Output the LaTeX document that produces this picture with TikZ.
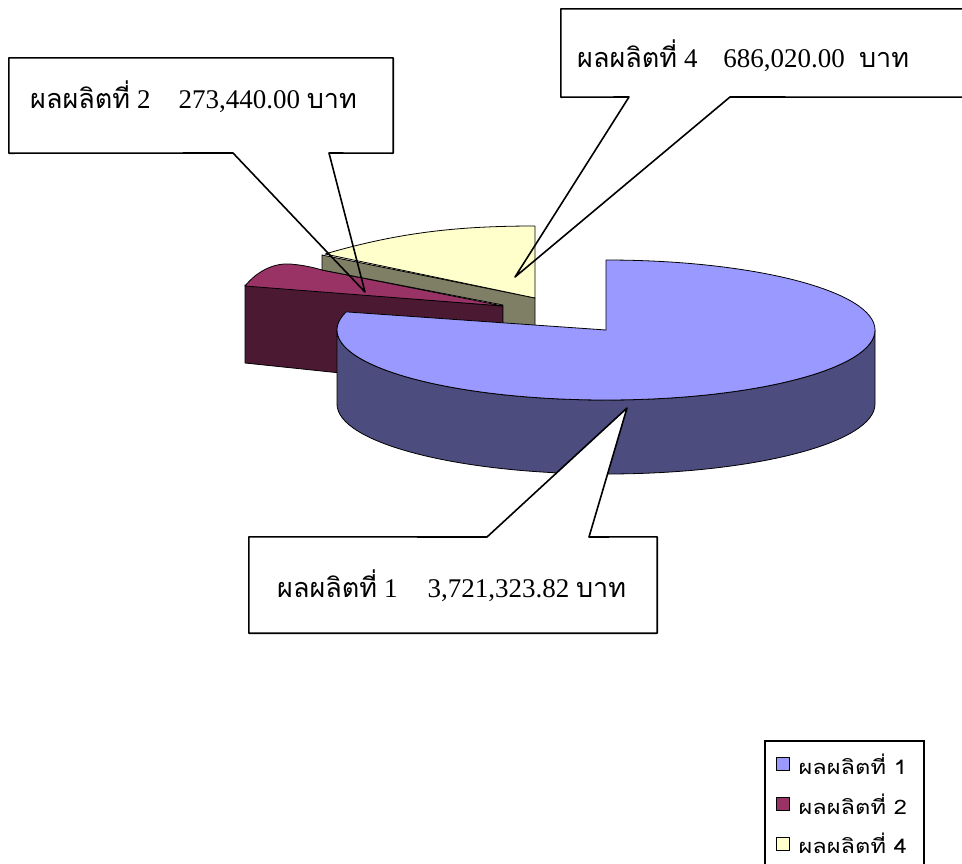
\documentclass[tikz,border=0pt]{standalone}
\usepackage{fontspec}
\setmainfont{Liberation Serif}
\newfontfamily\thaifont[Script=Thai]{Loma}
\newfontfamily\keyfont[Script=Thai, FakeStretch=1.18]{Loma}
\usetikzlibrary{positioning}
\definecolor{topone}{HTML}{9999FF}
\definecolor{sideone}{HTML}{4C4C7F}
\definecolor{toptwo}{HTML}{993366}
\definecolor{sidetwo}{HTML}{4C1933}
\definecolor{topfour}{HTML}{FFFFCC}
\definecolor{sidefour}{HTML}{7F7F66}
\newcommand{\thw}[1]{{\thaifont #1}}
\begin{document}
\begin{tikzpicture}[x=1pt,y=1pt,yscale=-1,xscale=1,
  slice/.style={draw=black, line width=0.8pt, line join=round},
  calloutbox/.style={fill=white, inner sep=0pt},
  calloutline/.style={draw=black, line width=1.6pt, line join=round},
  valtext/.style={inner sep=0pt, anchor=base west, font=\fontsize{27}{30}\selectfont},
  keybox/.style={draw=black, line width=0.8pt, minimum size=13pt, inner sep=0pt},
  keytext/.style={inner sep=0pt, font=\keyfont\fontsize{20}{24}\selectfont}]
		\useasboundingbox (0,0) rectangle (962,863);
		\clip (0,0) rectangle (962,863);
		% back slices
		\draw [slice, fill=sidetwo] (245,285) -- (503,306) -- (503,390) -- (245,363) -- cycle;
		\draw [slice, fill=toptwo] (245,286) .. controls (258,270) and (275,263) .. (290,264) .. controls (302,265) and (312,267) .. (322,270) -- (503,306) -- cycle;
		\draw [slice, fill=sidefour] (322,255) -- (535,298) -- (535,335) -- (503,335) -- (503,305) -- (322,270) -- cycle;
		\draw [slice, fill=topfour] (325,254) .. controls (400,232) and (460,226) .. (535,226) -- (535,298) -- cycle;
		% exploded slice
		\draw [slice, fill=sideone] (337,330) arc [start angle=180, end angle=0, x radius=269, y radius=70] -- ++(0,74) arc [start angle=0, end angle=180, x radius=269, y radius=70] -- cycle;
		\draw [slice, fill=topone] (606,330) -- ++(-90:269 and 70) arc [start angle=-90, end angle=195, x radius=269, y radius=70] -- cycle;
		% callouts
		\coordinate (tip1) at (627,408);
		\coordinate (tip2) at (365,292);
		\coordinate (tip4) at (515,277);
		\node [calloutbox, minimum width=384pt, minimum height=95pt] (box2) at (201,105.5) {};
		\coordinate (b2l) at (233,153);
		\coordinate (b2r) at (329,153);
		\draw [calloutline] (box2.south west) -- (box2.north west) -- (box2.north east) -- (box2.south east) -- (b2r) -- (tip2) -- (b2l) -- cycle;
		\node [valtext] (lab2) at (30,108) {\thw{ผลผลิตที่} 2\hspace{28pt}273,440.00 \thw{บาท}};
		\node [calloutbox, minimum width=414pt, minimum height=88pt] (box4) at (768,53) {};
		\coordinate (b4l) at (629,97);
		\coordinate (b4r) at (730,97);
		\draw [calloutline] (box4.south west) -- (box4.north west) -- (box4.north east) -- (box4.south east) -- (b4r) -- (tip4) -- (b4l) -- cycle;
		\node [valtext] (lab4) at (577,67) {\thw{ผลผลิตที่} 4\hspace{26pt}686,020.00\hspace{14pt}\thw{บาท}};
		\node [calloutbox, minimum width=408pt, minimum height=96pt] (box1) at (453,585) {};
		\coordinate (b1l) at (487,537);
		\coordinate (b1r) at (589,537);
		\draw [calloutline, fill=white] (box1.south west) -- (box1.north west) -- (b1l) -- (tip1) -- (b1r) -- (box1.north east) -- (box1.south east) -- cycle;
		\node [valtext] (lab1) at (277,597) {\thw{ผลผลิตที่} 1\hspace{30pt}3,721,323.82 \thw{บาท}};
		% legend
		\draw [line width=1.2pt] (924,875) -- (924,741) -- (765,741) -- (765,875);
		\node [keybox, fill=topone] (key1) at (782.5,764) {};
		\node [keybox, fill=toptwo] (key2) at (782.5,804) {};
		\node [keybox, fill=topfour] (key4) at (782.5,843.5) {};
		\node [keytext, right=9pt of key1] (txt1) {ผลผลิตที่ 1};
		\node [keytext, right=9pt of key2] (txt2) {ผลผลิตที่ 2};
		\node [keytext, right=9pt of key4] (txt4) {ผลผลิตที่ 4};
		\end{tikzpicture}
\end{document}
